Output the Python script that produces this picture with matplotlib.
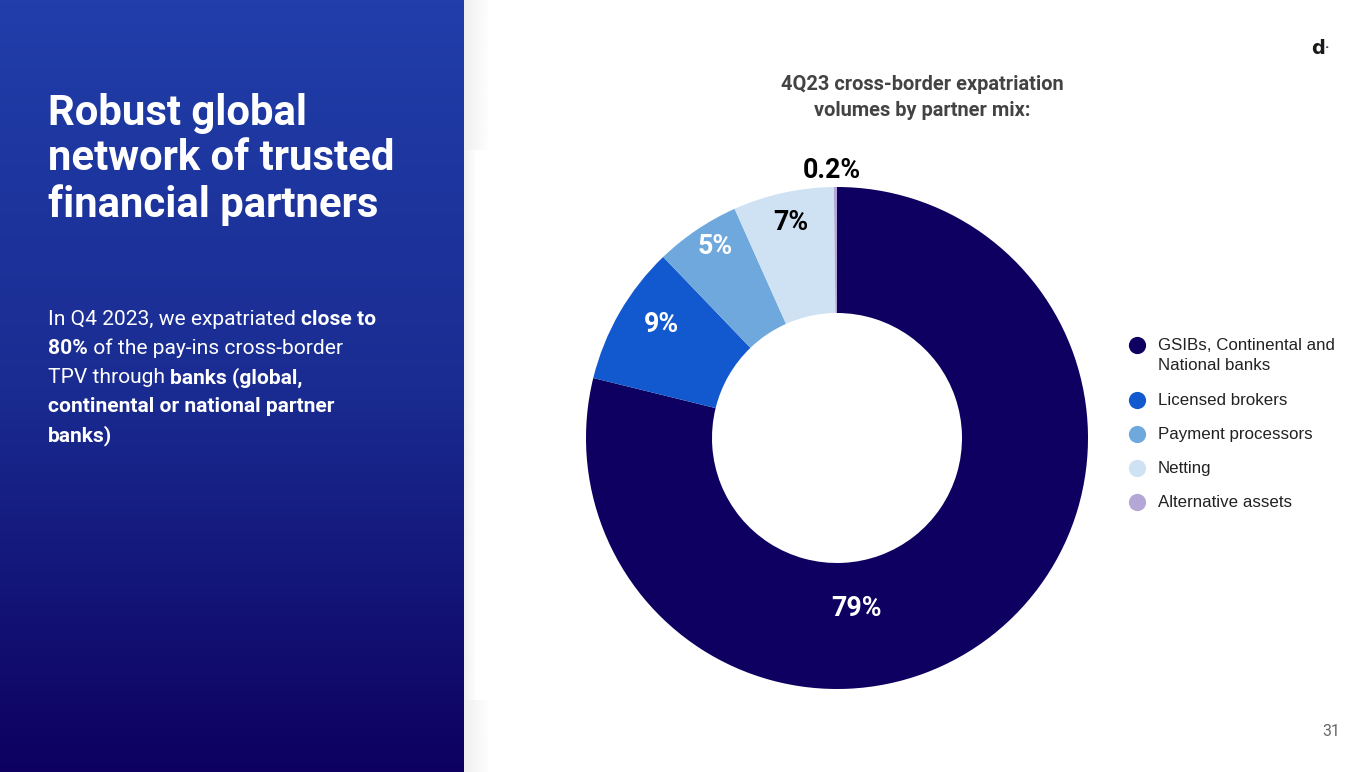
import numpy as np
import matplotlib
matplotlib.use('Agg')
import matplotlib.pyplot as plt

plt.rcParams['font.family'] = ['Roboto', 'DejaVu Sans']

W, H = 1371, 772

partners = ['GSIBs, Continental and\nNational banks', 'Licensed brokers', 'Payment processors',
            'Netting', 'Alternative assets']
shares = [79.0, 9.0, 5.5, 6.5, 0.2]
share_labels = ['79%', '9%', '5%', '7%', '0.2%']
colors = ['#0d0060', '#1259cf', '#6fa8dc', '#cfe2f3', '#b4a7d6']
label_colors = ['white', 'white', 'white', 'black', 'black']

headline = ['Robust global', 'network of trusted', 'financial partners']
# each line is a list of (text, bold) runs
body = [
    [('In Q4 2023, we expatriated ', False), ('close to', True)],
    [('80%', True), (' of the pay-ins cross-border', False)],
    [('TPV through ', False), ('banks (global,', True)],
    [('continental or national partner', True)],
    [('banks)', True)],
]
chart_title = '4Q23 cross-border expatriation\nvolumes by partner mix:'
page_number = '31'


def Y(y):
    return H - y


fig = plt.figure(figsize=(W / 100, H / 100), dpi=100)
ax = fig.add_axes([0, 0, 1, 1])

# pie first, it resets limits and aspect
wedges, _ = ax.pie(shares, colors=colors, startangle=90, counterclock=False, radius=251,
                   center=(837, Y(438)), wedgeprops={'width': 126, 'linewidth': 0}, frame=True)
ax.set_xlim(0, W)
ax.set_ylim(0, H)
ax.set_aspect('auto')
ax.axis('off')

# left panel gradient
stops = np.array([[33, 62, 170], [26, 44, 146], [13, 0, 96]]) / 255
t = np.linspace(0, 1, 256)
grad = np.stack([np.interp(t, [0, 0.5, 1], stops[:, i]) for i in range(3)], axis=1)[:, None, :]
ax.imshow(grad, extent=(0, 464, 0, H), origin='upper', aspect='auto', zorder=3)

# soft shadow right of the panel
fade = np.zeros((1, 64, 4))
fade[0, :, :3] = 0.6
fade[0, :, 3] = np.linspace(0.16, 0, 64)
ax.imshow(fade, extent=(464, 490, Y(150), H), aspect='auto', zorder=1)
ax.imshow(fade, extent=(464, 476, Y(700), Y(150)), aspect='auto', zorder=1)
ax.imshow(fade, extent=(464, 490, 0, Y(700)), aspect='auto', zorder=1)
ax.set_xlim(0, W)
ax.set_ylim(0, H)

for i, line in enumerate(headline):
    ax.text(48, Y(113 + i * 46), line, color='white', fontsize=30.15, fontweight='bold',
            va='center', ha='left', zorder=4)

renderer = fig.canvas.get_renderer()
for i, runs in enumerate(body):
    x = 48
    for text, bold in runs:
        t_ = ax.text(x, Y(325 + i * 29), text, color='white', fontsize=15.1,
                     fontweight='bold' if bold else 'normal', va='baseline', ha='left', zorder=4)
        x += t_.get_window_extent(renderer).width

ax.text(922, Y(97.5), chart_title, color='#434343', fontsize=14.4, fontweight='bold',
        ha='center', va='center', linespacing=1.46, zorder=4)

# slice labels
label_pos = [(857, 608), (661, 324), (715, 245), (791, 221), (832, 169)]
for lab, col, (px, py) in zip(share_labels, label_colors, label_pos):
    ax.text(px, Y(py + 1), lab, color=col, fontsize=19.3, fontweight='bold', ha='center', va='center', zorder=4)

# legend rows by hand, the marker sits on the first text line
legend_y = [345, 400, 434, 468, 502]
for name, c, ly in zip(partners, colors, legend_y):
    ax.plot([1137], [Y(ly)], linestyle='none', marker='o', markersize=12.4, markeredgewidth=0, color=c, zorder=4)
    ax.text(1158, Y(ly - 7), name, family=['Liberation Sans'], fontsize=12.2, color='#222222',
            ha='left', va='top', linespacing=1.45, zorder=4)

# logo
ax.text(1318, Y(48), 'd', family=['DejaVu Sans'], color='#1a1a1a', fontsize=14, fontweight='bold',
        ha='center', va='center', zorder=4)
ax.text(1327, Y(48), '·', color='#333355', fontsize=11, fontweight='bold', ha='center', va='center', zorder=4)

ax.text(1331, Y(731.5), page_number, color='#666666', fontsize=11.4, ha='center', va='center', zorder=4)

fig.savefig('out.png', dpi=100)
